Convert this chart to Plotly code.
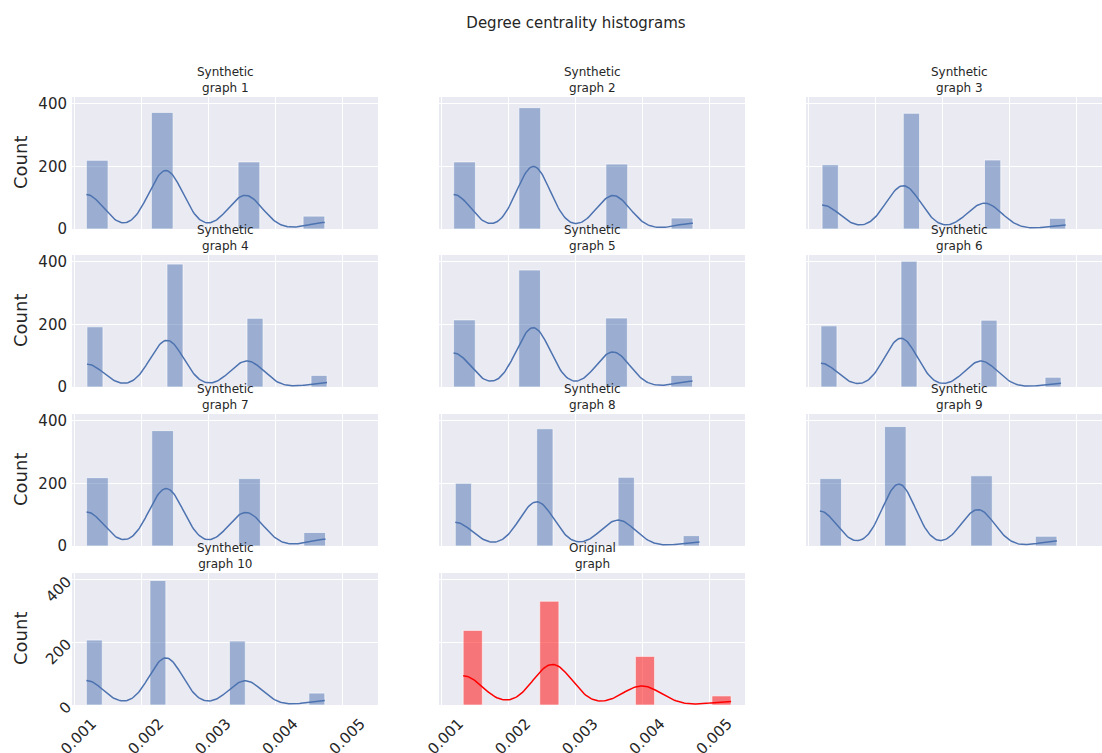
import numpy as np
import plotly.graph_objects as go

# ---------------- data ----------------
degrees = [1, 2, 3, 4]
graph_labels = [
    "Synthetic<br>graph 1", "Synthetic<br>graph 2", "Synthetic<br>graph 3",
    "Synthetic<br>graph 4", "Synthetic<br>graph 5", "Synthetic<br>graph 6",
    "Synthetic<br>graph 7", "Synthetic<br>graph 8", "Synthetic<br>graph 9",
    "Synthetic<br>graph 10", "Original<br>graph",
]
counts_g1 = [219, 372, 214, 41]
counts_g2 = [214, 387, 207, 35]
counts_g3 = [205, 369, 220, 34]
counts_g4 = [192, 392, 219, 37]
counts_g5 = [214, 373, 220, 37]
counts_g6 = [195, 401, 213, 31]
counts_g7 = [218, 368, 215, 43]
counts_g8 = [200, 374, 219, 33]
counts_g9 = [215, 381, 224, 31]
counts_g10 = [207, 397, 204, 38]
counts_orig = [238, 331, 155, 29]
all_counts = [counts_g1, counts_g2, counts_g3, counts_g4, counts_g5, counts_g6,
              counts_g7, counts_g8, counts_g9, counts_g10, counts_orig]
x_ticks = [0.001, 0.002, 0.003, 0.004, 0.005]
y_ticks = [0, 200, 400]
title_text = "Degree centrality histograms"
y_title = "Count"

# ---------------- styles ----------------
W, H = 1102, 753
BLUE = "#4c72b0"
fills = ["rgba(76,114,176,0.5)"] * 10 + ["rgba(255,0,0,0.5)"]
lines = [BLUE] * 10 + ["red"]
TXT = "#262626"
FONT = "DejaVu Sans"
col_px = [(72, 378), (439, 745), (806, 1112)]
row_px = [(97, 229), (255, 387), (414, 546), (573, 705)]


def centrality_data(counts):
    n = sum(counts)
    vals = np.array(degrees, float) / (n - 1)   # degree centrality = deg/(n-1)
    return vals, np.array(counts)


def kde_curve(vals, cnts, binwidth):
    x = np.repeat(vals, cnts)
    n = len(x)
    bw = x.std(ddof=1) * n ** (-0.2)  # Scott's rule
    grid = np.linspace(x.min(), x.max(), 200)
    z = (grid[:, None] - vals[None, :]) / bw
    dens = (cnts[None, :] * np.exp(-0.5 * z ** 2)).sum(1) / (n * bw * np.sqrt(2 * np.pi))
    return grid, dens * n * binwidth


# shared limits like matplotlib sharex/sharey (5% margins)
all_vals = []
ymax = 0
hists = []
for cnts in all_counts:
    vals, c = centrality_data(cnts)
    x = np.repeat(vals, c)
    edges = np.histogram_bin_edges(x, bins="auto")
    h, _ = np.histogram(x, edges)
    hists.append((vals, c, edges, h))
    all_vals.extend([x.min(), x.max()])
    ymax = max(ymax, h.max())
xmin, xmax = min(all_vals), max(all_vals)
span = xmax - xmin
xlo, xhi = xmin - 0.05 * span, xmax + 0.05 * span
ytop = ymax * 1.05

fig = go.Figure()
layout = {}
annotations = []
for i, (vals, c, edges, h) in enumerate(hists):
    r, col = divmod(i, 3)
    sfx = "" if i == 0 else str(i + 1)
    xa, ya = "x" + sfx, "y" + sfx
    centers = (edges[:-1] + edges[1:]) / 2
    widths = np.diff(edges)
    keep = h > 0
    fig.add_trace(go.Bar(
        x=centers[keep], y=h[keep], width=widths[keep],
        marker=dict(color=fills[i], line=dict(color="rgba(255,255,255,0.6)", width=1)),
        xaxis=xa, yaxis=ya, showlegend=False))
    gx, gy = kde_curve(vals, c, np.mean(widths))
    fig.add_trace(go.Scatter(x=gx, y=gy, mode="lines", line=dict(color=lines[i], width=1.5),
                             xaxis=xa, yaxis=ya, showlegend=False))

    x0, x1 = col_px[col]
    y0, y1 = row_px[r]
    full_w = x1 - x0
    x1c = min(x1, W)
    hi = xlo + (xhi - xlo) * (x1c - x0) / full_w
    layout["xaxis" + sfx] = dict(
        domain=[x0 / W, x1c / W], range=[xlo, hi], anchor=ya, automargin=False,
        tickvals=x_ticks, tickformat=".3f", showticklabels=(r == 3 or i == 10),
        tickangle=-45, ticklabelshift=18, ticklabelstandoff=6,
        showgrid=True, gridcolor="white", gridwidth=1, zeroline=False, showline=False,
        ticks="", tickfont=dict(family=FONT, size=15, color=TXT))
    layout["yaxis" + sfx] = dict(
        domain=[1 - y1 / H, 1 - y0 / H], range=[0, ytop], anchor=xa, automargin=False,
        tickvals=y_ticks, showticklabels=(col == 0),
        tickangle=(-45 if r == 3 else 0), ticklabelstandoff=4,
        showgrid=True, gridcolor="white", gridwidth=1, zeroline=False, showline=False,
        ticks="", tickfont=dict(family=FONT, size=15, color=TXT))
    annotations.append(dict(
        text=graph_labels[i], x=(x0 + x1) / 2 / W, y=1 - y0 / H, xref="paper", yref="paper",
        xanchor="center", yanchor="bottom", yshift=0, showarrow=False,
        font=dict(family=FONT, size=12, color=TXT)))
    if col == 0:
        annotations.append(dict(
            text=y_title, x=20 / W, y=1 - (y0 + y1) / 2 / H, xref="paper", yref="paper",
            xanchor="center", yanchor="middle", textangle=-90, showarrow=False,
            font=dict(family=FONT, size=18, color=TXT)))

fig.update_layout(
    template="none",
    width=W, height=H, margin=dict(l=0, r=0, t=0, b=0, pad=0),
    paper_bgcolor="white", plot_bgcolor="#eaeaf2", barmode="overlay",
    title=dict(text=title_text, x=576 / W, y=1 - 23 / H, xanchor="center", yanchor="middle",
               font=dict(family=FONT, size=15, color=TXT)),
    annotations=annotations,
    **layout)

fig.write_html("out.html", config={"displayModeBar": False},
               post_script="document.body.style.margin='0';document.body.style.overflow='hidden';")
